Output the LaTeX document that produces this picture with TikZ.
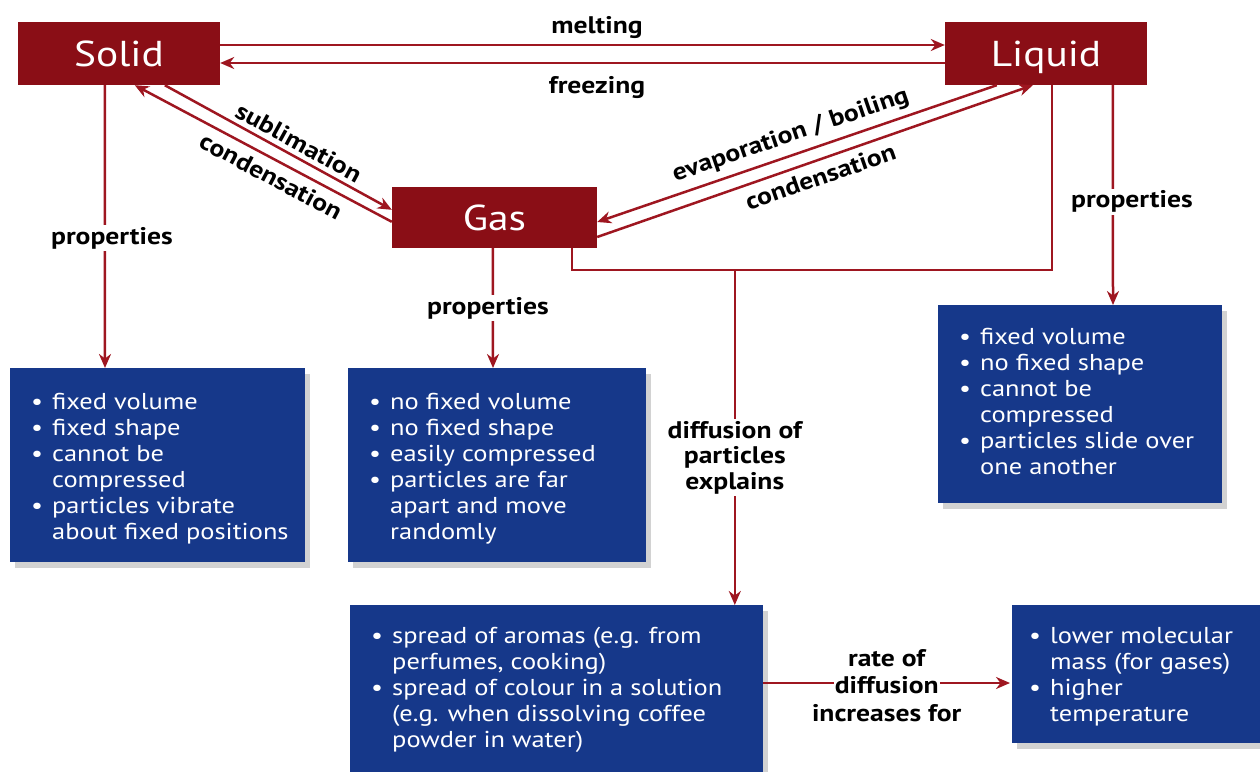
\documentclass[tikz,border=0pt]{standalone}
\usepackage{fontspec}
\setmainfont[FakeStretch=1.15]{PT Sans}
\usetikzlibrary{arrows.meta,calc,shadows}
\definecolor{boxred}{RGB}{138,14,22}
\definecolor{linered}{RGB}{158,22,32}
\definecolor{boxblue}{RGB}{22,56,138}
\newcommand{\bitem}{\makebox[21pt][l]{\textbullet}}
\newcommand{\bcont}{\hspace*{21pt}}
\begin{document}
\begin{tikzpicture}[x=1pt,y=-1pt,
  state/.style={fill=boxred, text=white, minimum width=202pt, minimum height=63pt, inner sep=0pt, text height=26pt, text depth=0pt, font=\fontsize{36}{40}\selectfont},
  bluebox/.style={fill=boxblue, inner sep=0pt, anchor=north west, drop shadow={shadow xshift=5pt, shadow yshift=-6pt, opacity=0.25, fill=black!70}},
  btext/.style={text=white, align=left, anchor=north west, inner sep=0pt, font=\fontsize{23}{26}\selectfont},
  lab/.style={font=\bfseries\fontsize{24}{25.5}\selectfont, text=black, inner sep=2pt},
  conn/.style={draw=linered, line width=2.5pt},
  arr/.style={conn, -{Stealth[length=14pt,width=12pt]}},
]
\useasboundingbox[fill=white] (0,0) rectangle (1260,771);

% state boxes
\node[state] (solid) at (119,53.5) {Solid};
\node[state] (liquid) at (1046,53.5) {Liquid};
\node[state, minimum width=205pt, minimum height=61pt] (gas) at (494.5,217.5) {Gas};

% blue boxes
\node[bluebox, minimum width=295pt, minimum height=194pt] (sp) at (10,368) {};
\node[bluebox, minimum width=298pt, minimum height=194pt] (gp) at (348,368) {};
\node[bluebox, minimum width=284pt, minimum height=198pt] (lp) at (938,305) {};
\node[bluebox, minimum width=413pt, minimum height=175pt] (dp) at (350,605) {};
\node[bluebox, minimum width=260pt, minimum height=138pt] (rp) at (1012,605) {};

% texts in blue boxes
\node[btext] (spt) at ($(sp.north west)+(21,25)$) {\bitem fixed volume\\ \bitem fixed shape\\ \bitem cannot be\\ \bcont compressed\\ \bitem particles vibrate\\ \bcont about fixed positions};
\node[btext] (gpt) at ($(gp.north west)+(21,25)$) {\bitem no fixed volume\\ \bitem no fixed shape\\ \bitem easily compressed\\ \bitem particles are far\\ \bcont apart and move\\ \bcont randomly};
\node[btext] (lpt) at ($(lp.north west)+(21,23)$) {\bitem fixed volume\\ \bitem no fixed shape\\ \bitem cannot be\\ \bcont compressed\\ \bitem particles slide over\\ \bcont one another};
\node[btext] (dpt) at ($(dp.north west)+(21,22)$) {\bitem spread of aromas (e.g. from\\ \bcont perfumes, cooking)\\ \bitem spread of colour in a solution\\ \bcont (e.g. when dissolving coffee\\ \bcont powder in water)};
\node[btext] (rpt) at ($(rp.north west)+(17,22)$) {\bitem lower molecular\\ \bcont mass (for gases)\\ \bitem higher\\ \bcont temperature};

% melting / freezing
\draw[arr] ([yshift=8.5pt]solid.east) -- node[lab, above=3.5pt, pos=0.52] {melting} ([yshift=8.5pt]liquid.west);
\draw[arr] ([yshift=-9.5pt]liquid.west) -- node[lab, below=10pt, pos=0.48] {freezing} ([yshift=-9.5pt]solid.east);

% sublimation / condensation
\draw[arr] ($(solid.south west)+(147,0)$) -- node[lab, sloped, above=2.5pt, pos=0.56] {sublimation} ($(gas.north west)+(0,23)$);
\draw[arr] ($(gas.north west)+(0,35)$) -- node[lab, sloped, below=4.5pt, pos=0.44] {condensation} ($(solid.south west)+(117,0)$);

% evaporation / condensation
\draw[arr] ($(liquid.south west)+(52,0)$) -- node[lab, sloped, above=4.5pt, pos=0.5] {evaporation / boiling} ([yshift=-4.5pt]gas.east);
\draw[arr] ([yshift=-19.5pt]gas.east) -- node[lab, sloped, below=4.5pt, pos=0.5] {condensation} ($(liquid.south west)+(88,0)$);

% properties
\draw[arr] ($(solid.south west)+(87,0)$) -- node[lab, fill=white, pos=0.54, xshift=7pt] {properties} ($(sp.north west)+(95,0)$);
\draw[arr] ($(gas.south west)+(101,0)$) -- node[lab, fill=white, pos=0.5, xshift=-5pt] {properties} ($(gp.north west)+(145,0)$);
\draw[arr] ($(liquid.south west)+(168,0)$) -- node[lab, fill=white, pos=0.53, xshift=19pt] {properties} ($(lp.north west)+(175,0)$);

% diffusion
\coordinate (j) at ($(gas.south west)+(343,22)$);
\draw[conn] ($(gas.south west)+(180,0)$) |- ($(liquid.south west)+(107,185)$) -- ($(liquid.south west)+(107,0)$);
\draw[arr] (j) -- node[lab, fill=white, align=center, pos=0.56] {diffusion of\\particles\\explains} (dp.north -| j);

% rate of diffusion
\draw[arr] ($(dp.north east)+(0,78)$) -- node[lab, fill=white, inner xsep=1pt, yshift=-5pt, text height=16pt, text depth=5pt,
   label={[lab, inner sep=2pt, text height=16pt, text depth=5pt, label distance=0pt]above:rate of},
   label={[lab, inner sep=2pt, text height=16pt, text depth=5pt, label distance=0pt]below:increases for}] {diffusion} ($(rp.north west)+(-2,78)$);
\end{tikzpicture}
\end{document}
